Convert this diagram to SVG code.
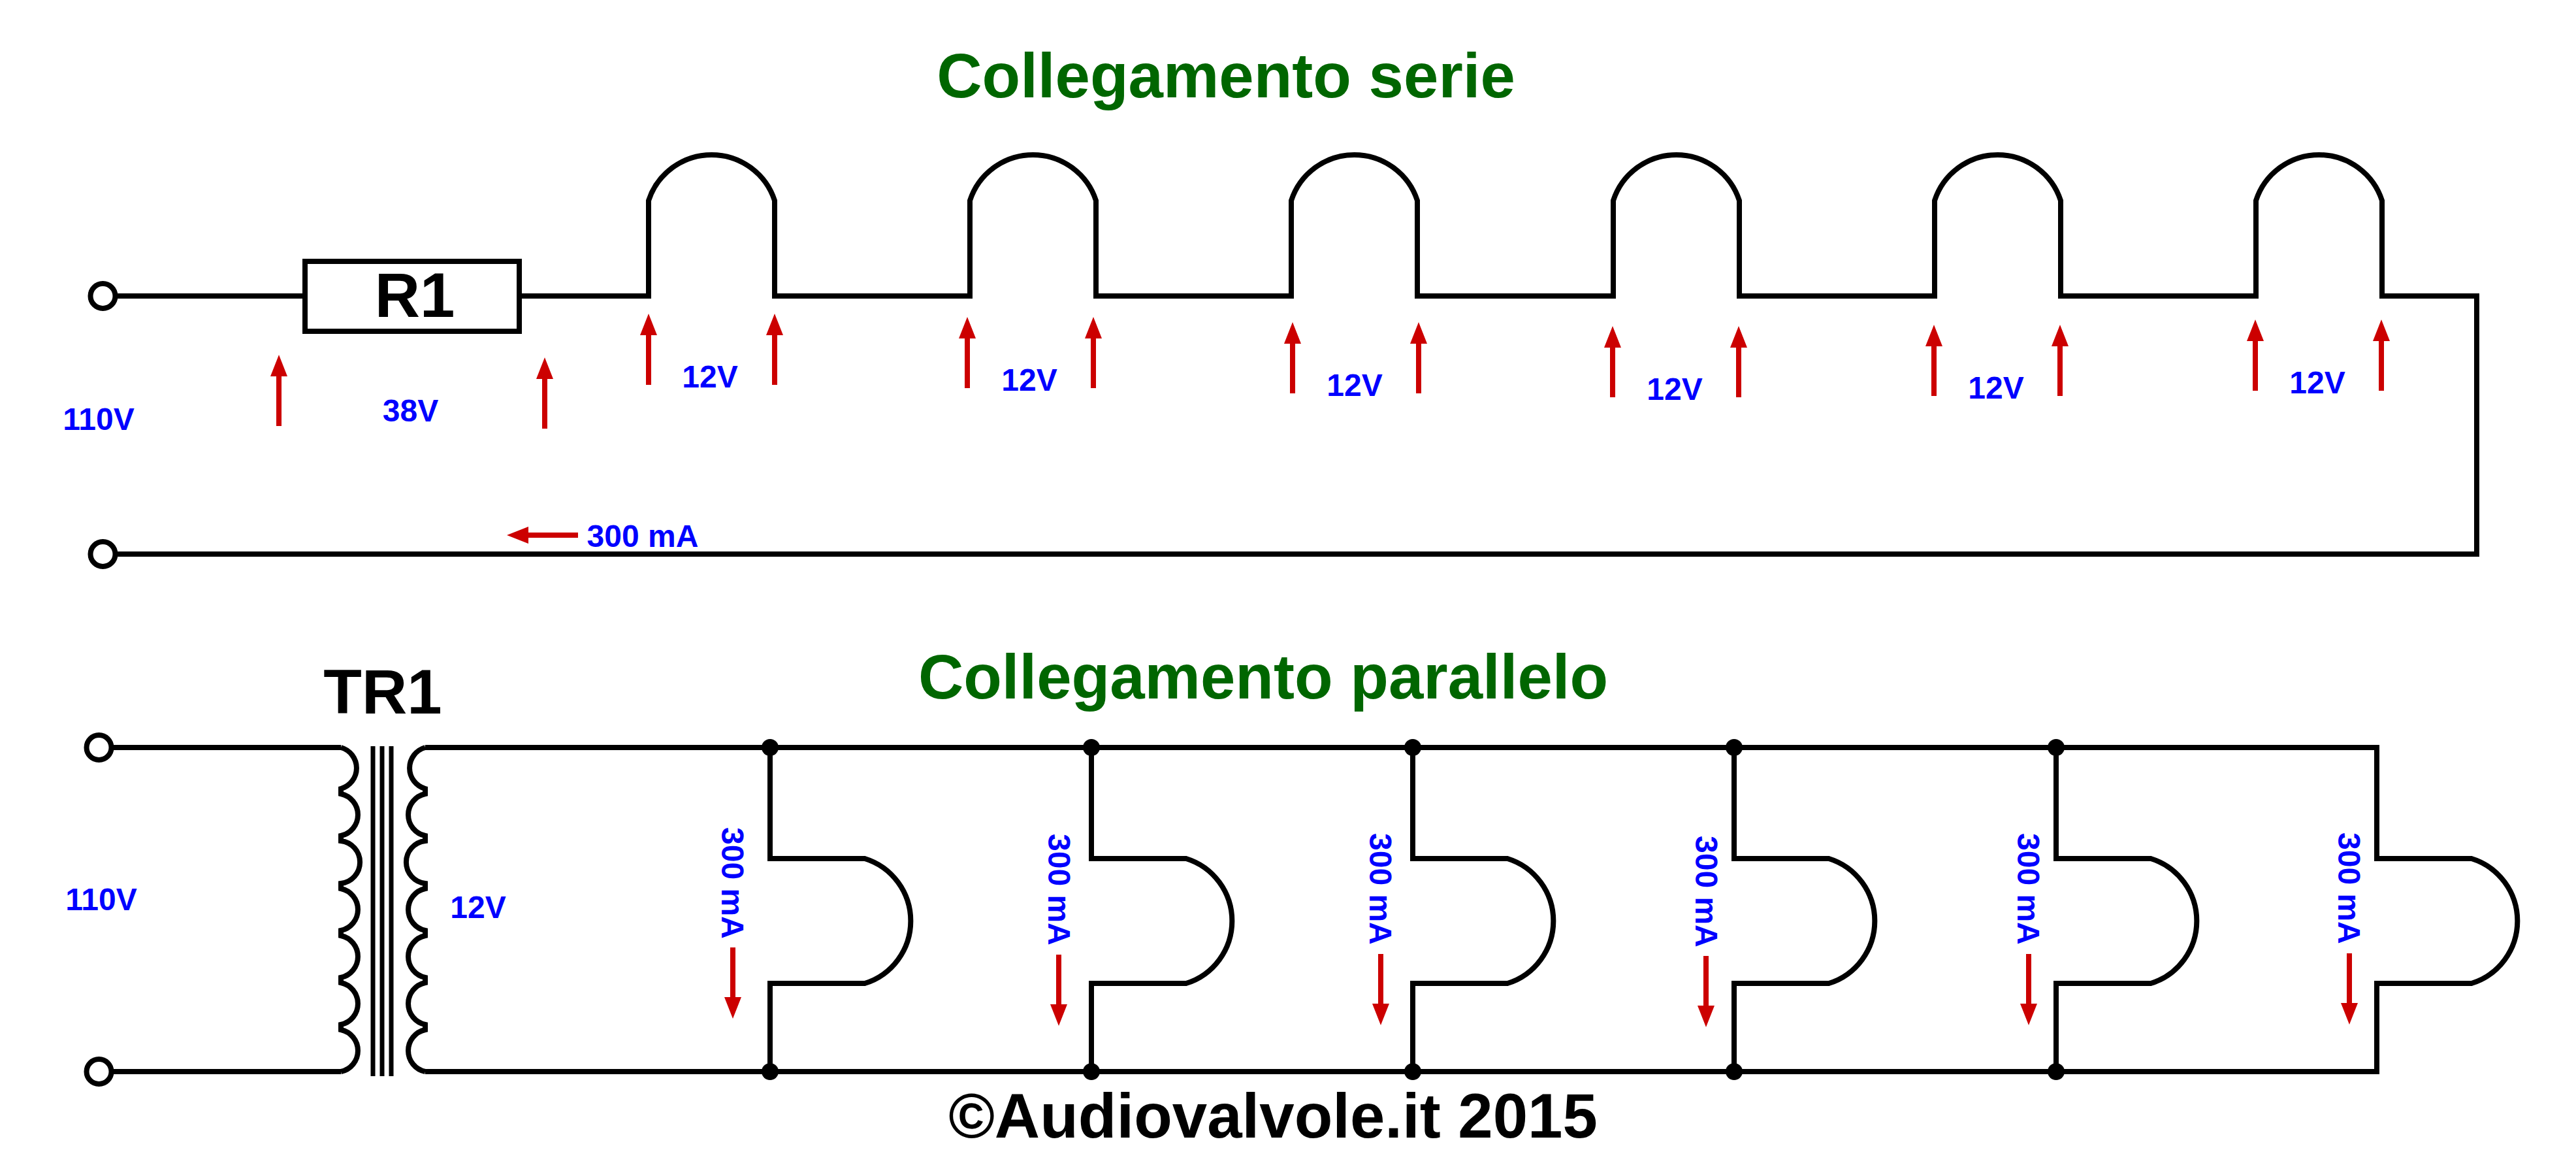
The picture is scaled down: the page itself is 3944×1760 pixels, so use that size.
<svg xmlns="http://www.w3.org/2000/svg" xmlns:xlink="http://www.w3.org/1999/xlink" width="3944" height="1760" viewBox="0 0 3944 1760">
<style>
.w{fill:none;stroke:#000;stroke-width:8;stroke-linejoin:miter}
.t{fill:#fff;stroke:#000;stroke-width:8}
text{font-family:"Liberation Sans",Arial,sans-serif;font-weight:bold}
.h{font-size:96px;text-anchor:middle}
.g{fill:#006600}
.k{fill:#000}
.b{fill:#0000ff;font-size:48px;text-anchor:middle}
.r{fill:#0000ff;font-size:48px}
.a{fill:#cc0000}
.j{fill:#000}
</style>
<defs>
<path id="ar" class="a" d="M0 0L13 33H4V109H-4V33H-13Z"/>
<path id="lamp-s" class="w" d="M0 457V307A101.500 101.500 0 0 1 193 307V457"/>
<path id="lamp-p" class="w" d="M0 1310V1314H145A100 100 0 0 1 145 1505H0V1509"/>
</defs>
<rect width="3944" height="1760" fill="#fff"/>
<text class="h g" x="1877" y="149">Collegamento serie</text>
<text class="h g" x="1934" y="1069">Collegamento parallelo</text>
<text class="h k" x="1949" y="1741">©Audiovalvole.it 2015</text>

<g id="connectors">
<path class="w" d="M176 453H467M795 453H997M1183 453H1489M1674 453H1981M2167 453H2474M2659 453H2966M3151 453H3458M3643 453H3792V848H176"/>
<path class="w" d="M170 1144H522M170 1640H522M651 1144H3639V1318M651 1640H3639V1501"/>
<path class="w" d="M1179 1144V1318M1671 1144V1318M2163 1144V1318M2655 1144V1318M3148 1144V1318M1179 1501V1640M1671 1501V1640M2163 1501V1640M2655 1501V1640M3148 1501V1640"/>
</g>

<g id="term-s1"><circle class="t" cx="157.500" cy="453" r="19"/></g>
<g id="term-s2"><circle class="t" cx="157.500" cy="848" r="19"/></g>
<g id="term-p1"><circle class="t" cx="151.500" cy="1144" r="19"/></g>
<g id="term-p2"><circle class="t" cx="151.500" cy="1640" r="19"/></g>

<g id="R1"><rect class="t" x="467" y="400" width="328" height="107"/><text class="h k" x="635" y="485">R1</text></g>

<g id="lamp-s1"><use xlink:href="#lamp-s" href="#lamp-s" x="993"/></g>
<g id="lamp-s2"><use xlink:href="#lamp-s" href="#lamp-s" x="1485"/></g>
<g id="lamp-s3"><use xlink:href="#lamp-s" href="#lamp-s" x="1977"/></g>
<g id="lamp-s4"><use xlink:href="#lamp-s" href="#lamp-s" x="2470"/></g>
<g id="lamp-s5"><use xlink:href="#lamp-s" href="#lamp-s" x="2962"/></g>
<g id="lamp-s6"><use xlink:href="#lamp-s" href="#lamp-s" x="3454"/></g>

<g id="TR1">
<text class="h k" x="586" y="1092">TR1</text>
<path class="w" d="M522 1144A32.700 32.700 0 0 1 522 1207V1215A32.700 32.700 0 0 1 522 1279V1287A32.700 32.700 0 0 1 522 1352V1360A32.700 32.700 0 0 1 522 1424V1432A32.700 32.700 0 0 1 522 1496V1504A32.700 32.700 0 0 1 522 1568V1576A32.700 32.700 0 0 1 522 1640"/>
<path class="w" d="M651 1144A32.700 32.700 0 0 0 651 1207V1215A32.700 32.700 0 0 0 651 1279V1287A32.700 32.700 0 0 0 651 1352V1360A32.700 32.700 0 0 0 651 1424V1432A32.700 32.700 0 0 0 651 1496V1504A32.700 32.700 0 0 0 651 1568V1576A32.700 32.700 0 0 0 651 1640"/>
<path fill="none" stroke="#000" stroke-width="7" d="M571 1142V1647M585 1142V1647M599 1142V1647"/>
</g>

<g id="lamp-p1"><use xlink:href="#lamp-p" href="#lamp-p" x="1179"/></g>
<g id="lamp-p2"><use xlink:href="#lamp-p" href="#lamp-p" x="1671"/></g>
<g id="lamp-p3"><use xlink:href="#lamp-p" href="#lamp-p" x="2163"/></g>
<g id="lamp-p4"><use xlink:href="#lamp-p" href="#lamp-p" x="2655"/></g>
<g id="lamp-p5"><use xlink:href="#lamp-p" href="#lamp-p" x="3148"/></g>
<g id="lamp-p6"><use xlink:href="#lamp-p" href="#lamp-p" x="3639"/></g>

<g id="junctions">
<circle class="j" cx="1179" cy="1144" r="13"/><circle class="j" cx="1671" cy="1144" r="13"/><circle class="j" cx="2163" cy="1144" r="13"/><circle class="j" cx="2655" cy="1144" r="13"/><circle class="j" cx="3148" cy="1144" r="13"/>
<circle class="j" cx="1179" cy="1640" r="13"/><circle class="j" cx="1671" cy="1640" r="13"/><circle class="j" cx="2163" cy="1640" r="13"/><circle class="j" cx="2655" cy="1640" r="13"/><circle class="j" cx="3148" cy="1640" r="13"/>
</g>

<g id="arrows">
<use href="#ar" xlink:href="#ar" x="427" y="543"/><use href="#ar" xlink:href="#ar" x="834" y="547"/>
<use href="#ar" xlink:href="#ar" x="993" y="480"/><use href="#ar" xlink:href="#ar" x="1186" y="480"/>
<use href="#ar" xlink:href="#ar" x="1481" y="485"/><use href="#ar" xlink:href="#ar" x="1674" y="485"/>
<use href="#ar" xlink:href="#ar" x="1979" y="493"/><use href="#ar" xlink:href="#ar" x="2172" y="493"/>
<use href="#ar" xlink:href="#ar" x="2469" y="499"/><use href="#ar" xlink:href="#ar" x="2662" y="499"/>
<use href="#ar" xlink:href="#ar" x="2961" y="497"/><use href="#ar" xlink:href="#ar" x="3154" y="497"/>
<use href="#ar" xlink:href="#ar" x="3453" y="489"/><use href="#ar" xlink:href="#ar" x="3646" y="489"/>
<use href="#ar" xlink:href="#ar" transform="translate(776 819) rotate(-90)"/>
<use href="#ar" xlink:href="#ar" transform="translate(1122 1559) rotate(180)"/>
<use href="#ar" xlink:href="#ar" transform="translate(1621 1570) rotate(180)"/>
<use href="#ar" xlink:href="#ar" transform="translate(2114 1569) rotate(180)"/>
<use href="#ar" xlink:href="#ar" transform="translate(2612 1572) rotate(180)"/>
<use href="#ar" xlink:href="#ar" transform="translate(3106 1569) rotate(180)"/>
<use href="#ar" xlink:href="#ar" transform="translate(3597 1568) rotate(180)"/>
</g>

<g id="labels">
<text class="b" x="151" y="658">110V</text>
<text class="b" x="628.500" y="645">38V</text>
<text class="b" x="1087" y="593">12V</text>
<text class="b" x="1576" y="598">12V</text>
<text class="b" x="2074" y="606">12V</text>
<text class="b" x="2564" y="612">12V</text>
<text class="b" x="3056" y="610">12V</text>
<text class="b" x="3548" y="602">12V</text>
<text class="b" x="984" y="837">300 mA</text>
<text class="b" x="155" y="1393">110V</text>
<text class="b" x="732" y="1405">12V</text>
<text class="r" transform="translate(1105 1266) rotate(90)">300 mA</text>
<text class="r" transform="translate(1605 1276) rotate(90)">300 mA</text>
<text class="r" transform="translate(2097 1275) rotate(90)">300 mA</text>
<text class="r" transform="translate(2596 1279) rotate(90)">300 mA</text>
<text class="r" transform="translate(3089 1275) rotate(90)">300 mA</text>
<text class="r" transform="translate(3580 1274) rotate(90)">300 mA</text>
</g>
</svg>
